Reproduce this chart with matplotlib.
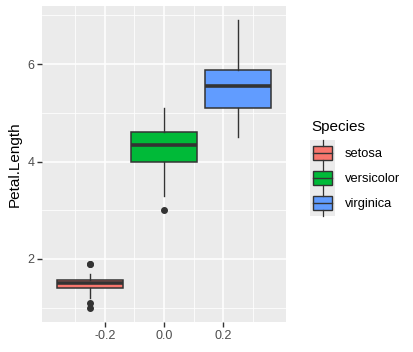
import matplotlib.pyplot as plt
from matplotlib.legend_handler import HandlerBase
from matplotlib.patches import Patch, Rectangle
from matplotlib.lines import Line2D

plt.rcParams['font.family'] = ['Liberation Sans', 'DejaVu Sans']

# iris Petal.Length summary per species
species = ['setosa', 'versicolor', 'virginica']
colors = ['#F8766D', '#00BA38', '#619CFF']
positions = [-0.25, 0.0, 0.25]
q1 = [1.4, 4.0, 5.1]
med = [1.5, 4.35, 5.55]
q3 = [1.575, 4.6, 5.875]
whislo = [1.2, 3.3, 4.5]
whishi = [1.7, 5.1, 6.9]
fliers = [[1.0, 1.1, 1.9, 1.9], [3.0], []]

DARK = '#333333'

stats = []
for i in range(len(species)):
    stats.append({'med': med[i], 'q1': q1[i], 'q3': q3[i],
                  'whislo': whislo[i], 'whishi': whishi[i],
                  'fliers': fliers[i], 'label': species[i]})

fig = plt.figure(figsize=(4.14, 3.52), dpi=100)
ax = fig.add_axes([42 / 414, 1 - 322 / 352, 244 / 414, 316 / 352])
ax.set_facecolor('#EBEBEB')

bp = ax.bxp(stats, positions=positions, widths=0.225, patch_artist=True,
            showcaps=False,
            boxprops=dict(edgecolor=DARK, linewidth=1.1),
            whiskerprops=dict(color=DARK, linewidth=1.0),
            medianprops=dict(color=DARK, linewidth=2.6, solid_capstyle='butt'),
            flierprops=dict(marker='o', markerfacecolor=DARK,
                            markeredgecolor=DARK, markersize=4))
for box, c in zip(bp['boxes'], colors):
    box.set_facecolor(c)
for b in bp['boxes'] + bp['whiskers'] + bp['medians'] + bp['fliers']:
    b.set_zorder(3)

ax.set_xlim(-0.4125, 0.4125)
ax.set_ylim(0.705, 7.195)
ax.set_xticks([-0.2, 0.0, 0.2])
ax.set_xticklabels(['-0.2', '0.0', '0.2'])
ax.set_xticks([-0.3, -0.1, 0.1, 0.3], minor=True)
ax.set_yticks([2, 4, 6])
ax.set_yticks([1, 3, 5, 7], minor=True)
ax.grid(which='major', color='white', linewidth=1.1)
ax.grid(which='minor', color='white', linewidth=0.55)
ax.set_axisbelow(True)
for s in ax.spines.values():
    s.set_visible(False)
ax.tick_params(which='major', length=3.5, width=1.0, color=DARK,
               labelsize=9, labelcolor='#4D4D4D', pad=2)
ax.tick_params(which='minor', length=0)
ax.set_ylabel('Petal.Length', fontsize=11, labelpad=4)


class BoxKey(HandlerBase):
    def create_artists(self, legend, orig_handle, xdescent, ydescent,
                       width, height, fontsize, trans):
        x0, y0 = -xdescent, -ydescent
        w, h = width, height
        bg = Rectangle((x0, y0), w, h, facecolor='#EBEBEB',
                       edgecolor='none', transform=trans)
        cx = x0 + w / 2
        box = Rectangle((x0 + 0.11 * w, y0 + 0.21 * h), 0.78 * w, 0.58 * h,
                        facecolor=orig_handle.get_facecolor(),
                        edgecolor=DARK, linewidth=1.0, transform=trans)
        top = Line2D([cx, cx], [y0 + 0.79 * h, y0 + h],
                     color=DARK, linewidth=0.9, transform=trans)
        bot = Line2D([cx, cx], [y0, y0 + 0.21 * h],
                     color=DARK, linewidth=0.9, transform=trans)
        mid = Line2D([x0 + 0.11 * w, x0 + 0.89 * w], [y0 + 0.5 * h] * 2,
                     color=DARK, linewidth=1.0, transform=trans)
        return [bg, box, top, bot, mid]


handles = [Patch(facecolor=c) for c in colors]
leg = ax.legend(handles, species, handler_map={Patch: BoxKey()},
                loc='upper left', bbox_to_anchor=(310 / 414, 1 - 140.5 / 352),
                bbox_transform=fig.transFigure, frameon=False,
                fontsize=9.3, handlelength=1.94, handleheight=2.61,
                labelspacing=0.0, handletextpad=0.78, borderaxespad=0,
                borderpad=0)
fig.text(311 / 414, 1 - 130.5 / 352, 'Species', fontsize=11,
         ha='left', va='baseline')

fig.savefig('out.png', dpi=100)
